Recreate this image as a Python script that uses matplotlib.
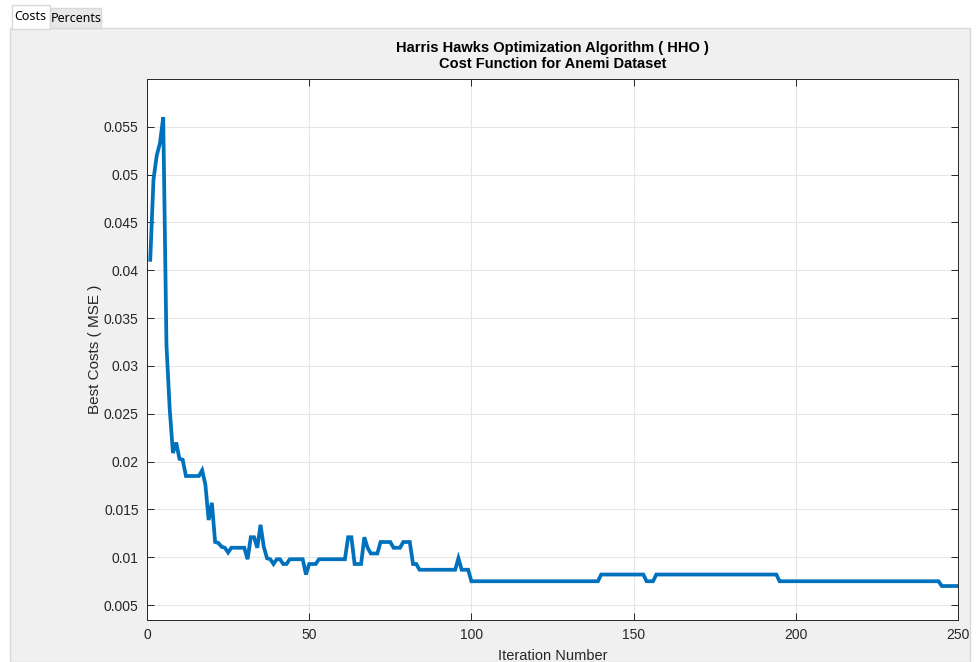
import matplotlib
matplotlib.use("Agg")
import matplotlib.pyplot as plt
from matplotlib.patches import Rectangle
from matplotlib.ticker import MultipleLocator, FuncFormatter

# best cost per iteration, written as runs of repeated values
best_costs = (
    [0.0411, 0.0495, 0.0520, 0.0533, 0.0560, 0.0322, 0.0255, 0.0209, 0.0220, 0.0203, 0.0202]
    + [0.0185] * 5
    + [0.0191, 0.0176, 0.0139, 0.0157, 0.0116, 0.0115, 0.0111, 0.0110, 0.0105]
    + [0.0110] * 5
    + [0.0098, 0.0121, 0.0121, 0.0110, 0.0134, 0.0111, 0.0099, 0.0098, 0.0093, 0.0098, 0.0098, 0.0093, 0.0093]
    + [0.0098] * 5
    + [0.0082, 0.0093, 0.0093, 0.0093]
    + [0.0098] * 9
    + [0.0121, 0.0121, 0.0093, 0.0093, 0.0093, 0.0121, 0.0110, 0.0104, 0.0104, 0.0104]
    + [0.0116] * 4
    + [0.0110, 0.0110, 0.0110, 0.0116, 0.0116, 0.0116]
    + [0.0093] * 2
    + [0.0087] * 12
    + [0.0099, 0.0087, 0.0087, 0.0087]
    + [0.0075] * 40
    + [0.0082] * 14
    + [0.0075] * 3
    + [0.0082] * 38
    + [0.0075] * 50
    + [0.0070] * 6
)
iterations = list(range(1, len(best_costs) + 1))

tab_labels = ["Costs", "Percents"]
title_lines = ["Harris Hawks Optimization Algorithm ( HHO )", "Cost Function for Anemi Dataset"]

plt.rcParams["font.family"] = ["Liberation Sans", "DejaVu Sans"]

W, H = 976, 662
fig = plt.figure(figsize=(W / 100, H / 100), dpi=100, facecolor="white")

# tab group chrome (pixel coords converted to figure fractions), kept behind the axes
def px_rect(x0, y0, x1, y1, **kw):
    fig.patches.append(Rectangle((x0 / W, 1 - y1 / H), (x1 - x0) / W, (y1 - y0) / H,
                                 transform=fig.transFigure, figure=fig, zorder=-5, **kw))

px_rect(10, 28, 970, 662, facecolor="#f0f0f0", edgecolor="#d9d9d9", linewidth=1)
px_rect(12, 5, 50, 29, facecolor="white", edgecolor="#d9d9d9", linewidth=1)
px_rect(50, 8, 101, 28, facecolor="#e8e8e8", edgecolor="#d9d9d9", linewidth=1)
fig.text(30 / W, 1 - 17 / H, tab_labels[0], ha="center", va="center", fontsize=9,
         family=["Noto Sans", "DejaVu Sans"])
fig.text(76 / W, 1 - 18 / H, tab_labels[1], ha="center", va="center", fontsize=9,
         family=["Noto Sans", "DejaVu Sans"])

ax = fig.add_axes([147 / W, 1 - 619.5 / H, (958 - 147) / W, (619.5 - 79) / H])
ax.set_facecolor("white")
ax.plot(iterations, best_costs, color="#0072BD", linewidth=2.7, solid_joinstyle="miter")

ax.set_xlim(0, 250)
ax.set_ylim(0.0035, 0.060)
ax.xaxis.set_major_locator(MultipleLocator(50))
ax.set_yticks([0.005 * k for k in range(1, 12)])
ax.yaxis.set_major_formatter(FuncFormatter(lambda v, p: f"{v:g}"))

ax.grid(True, color="#e6e6e6", linewidth=0.8)
ax.set_axisbelow(True)
for sp in ax.spines.values():
    sp.set_color("#262626")
    sp.set_linewidth(0.7)
ax.tick_params(direction="in", length=5, width=0.7, color="#262626",
               labelcolor="#262626", labelsize=10, top=True, right=True, pad=6)

ax.set_xlabel("Iteration Number", fontsize=10.5, color="#262626", labelpad=5)
ax.set_ylabel("Best Costs ( MSE )", fontsize=11, color="#262626", labelpad=1)
ax.set_title("\n".join(title_lines), fontsize=10.5, fontweight="bold", color="black",
             pad=8, linespacing=1.15)

fig.savefig("out.png", dpi=100, facecolor="white")
